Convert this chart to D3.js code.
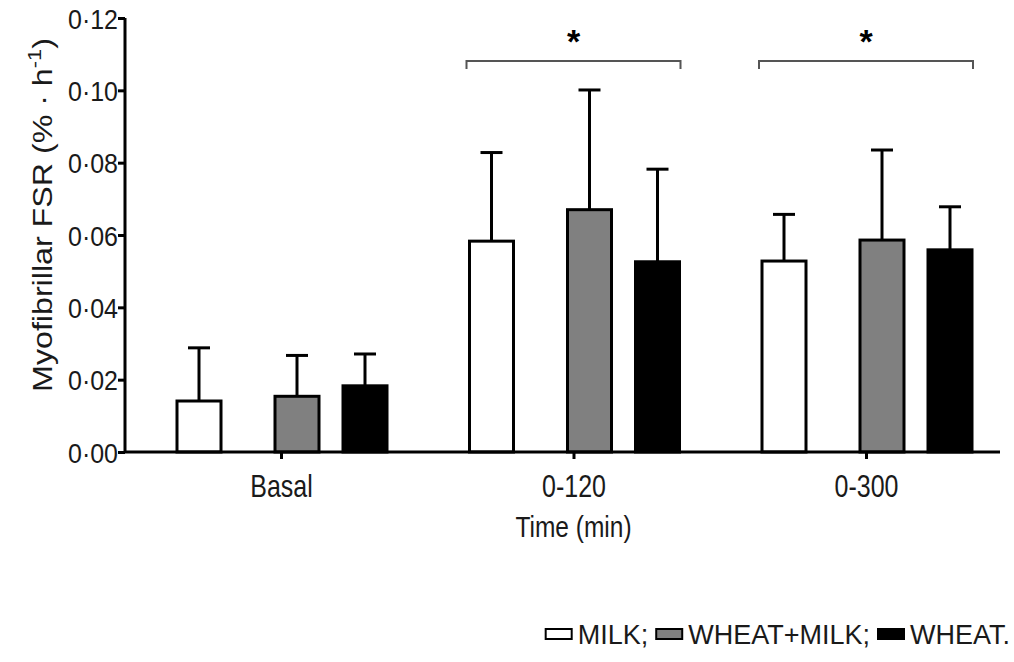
<!DOCTYPE html>
<html>
<head>
<meta charset="utf-8">
<script src="https://cdn.jsdelivr.net/npm/d3@7"></script>
<style>
  body { margin: 0; background: #fff; }
  svg { display: block; font-family: "Liberation Sans", Arial, sans-serif; }
</style>
</head>
<body>
<svg id="chart" width="1014" height="662" viewBox="0 0 1014 662"></svg>
<script>
const categories = ["Basal", "0-120", "0-300"];
const series = ["MILK", "WHEAT+MILK", "WHEAT"];
const means = {
  MILK: [0.0141, 0.0583, 0.0528],
  "WHEAT+MILK": [0.0154, 0.067, 0.0586],
  WHEAT: [0.0183, 0.0526, 0.0559],
};
const upperSD = {
  MILK: [0.0288, 0.0828, 0.0657],
  "WHEAT+MILK": [0.0267, 0.1001, 0.0835],
  WHEAT: [0.0271, 0.0782, 0.0678],
};
const yTicks = [0, 0.02, 0.04, 0.06, 0.08, 0.1, 0.12];
const significant = ["0-120", "0-300"];
const legendLabels = ["MILK;", "WHEAT+MILK;", "WHEAT."];

const fills = d3.scaleOrdinal().domain(series).range(["#ffffff", "#808080", "#000000"]);
const ink = "#1a1a1a";

const svg = d3.select("#chart");
const axisX = 125;

const y = d3.scaleLinear().domain([0, 0.12]).range([452, 18]);
const x = d3.scalePoint().domain(categories).range([281, 866]);
// bar left edge relative to category tick (GraphPad-style spacing)
const offset = d3.scaleOrdinal().domain(series).range([-104, -6, 62]);
const barW = 44;

const rows = categories.flatMap((c, i) =>
  series.map((s) => ({ cat: c, s, v: means[s][i], hi: upperSD[s][i] }))
);

// error bars first so bars cover the stem
const err = svg.append("g").attr("stroke", "#000").attr("stroke-width", 3);
err.selectAll("line.stem")
  .data(rows)
  .join("line")
  .attr("x1", (d) => x(d.cat) + offset(d.s) + barW / 2)
  .attr("x2", (d) => x(d.cat) + offset(d.s) + barW / 2)
  .attr("y1", (d) => y(d.v))
  .attr("y2", (d) => y(d.hi));
err.selectAll("line.cap")
  .data(rows)
  .join("line")
  .attr("x1", (d) => x(d.cat) + offset(d.s) + barW / 2 - 11)
  .attr("x2", (d) => x(d.cat) + offset(d.s) + barW / 2 + 11)
  .attr("y1", (d) => y(d.hi))
  .attr("y2", (d) => y(d.hi));

svg.append("g")
  .selectAll("rect")
  .data(rows)
  .join("rect")
  .attr("x", (d) => x(d.cat) + offset(d.s))
  .attr("y", (d) => y(d.v))
  .attr("width", barW)
  .attr("height", (d) => y(0) - y(d.v))
  .attr("fill", (d) => fills(d.s))
  .attr("stroke", "#000")
  .attr("stroke-width", 3);

// y axis
const yAxis = svg.append("g")
  .attr("transform", `translate(${axisX},0)`)
  .call(
    d3.axisLeft(y)
      .tickValues(yTicks)
      .tickSize(7)
      .tickPadding(0)
      .tickFormat((d) => d3.format(".2f")(d).replace(".", "·"))
  );
yAxis.select(".domain").attr("stroke-width", 3).attr("d", `M0,${y(0.12)}V${y(0)}`);
yAxis.selectAll(".tick line").attr("stroke-width", 3);
yAxis.selectAll(".tick text")
  .attr("font-size", 25)
  .attr("fill", ink)
  .attr("font-family", "Liberation Sans, Arial, sans-serif")
  .attr("dy", null)
  .attr("y", 0)
  .attr("transform", "translate(0,10) scale(1,1.12)");

// x axis
const xAxis = svg.append("g")
  .attr("transform", `translate(0,${y(0)})`)
  .call(d3.axisBottom(x).tickSize(7));
xAxis.select(".domain").attr("stroke-width", 3).attr("d", `M${axisX},0H1000`);
xAxis.selectAll(".tick line").attr("stroke-width", 3);
xAxis.selectAll(".tick text")
  .attr("font-size", 25)
  .attr("fill", ink)
  .attr("font-family", "Liberation Sans, Arial, sans-serif")
  .attr("dy", null)
  .attr("y", 0)
  .attr("transform", "translate(0,45) scale(1,1.22)");

svg.append("text")
  .attr("transform", `translate(${x("0-120")},537) scale(1,1.22)`)
  .attr("text-anchor", "middle")
  .attr("font-size", 24.5)
  .attr("fill", ink)
  .text("Time (min)");

const yl = svg.append("text")
  .attr("transform", "translate(52,215) rotate(-90) scale(1.15,1)")
  .attr("text-anchor", "middle")
  .attr("font-size", 28)
  .attr("fill", ink);
yl.append("tspan").text("Myofibrillar FSR (% · h");
yl.append("tspan").attr("dy", -11).attr("font-size", 19).text("-1");
yl.append("tspan").attr("dy", 11).text(")");

// significance brackets
const br = svg.append("g");
significant.forEach((c) => {
  const x0 = x(c) + offset("MILK") - 3;
  const x1 = x(c) + offset("WHEAT") + barW + 1;
  br.append("path")
    .attr("d", `M${x0},69V61H${x1}V69`)
    .attr("fill", "none")
    .attr("stroke", "#555")
    .attr("stroke-width", 2);
  br.append("text")
    .attr("x", x(c))
    .attr("y", 53)
    .attr("text-anchor", "middle")
    .attr("font-size", 34)
    .attr("font-weight", "bold")
    .text("*");
});

// legend, laid out right to left
const leg = svg.append("g").attr("font-size", 27).attr("fill", ink);
let cx = 1010;
for (let i = legendLabels.length - 1; i >= 0; i--) {
  const t = leg.append("text").attr("y", 644).attr("text-anchor", "end").attr("x", cx).text(legendLabels[i]);
  const w = t.node().getComputedTextLength();
  cx -= w + 6;
  leg.append("rect")
    .attr("x", cx - 26)
    .attr("y", 629)
    .attr("width", 26)
    .attr("height", 10)
    .attr("fill", fills(series[i]))
    .attr("stroke", "#000")
    .attr("stroke-width", 2);
  cx -= 26 + 8;
}
</script>
</body>
</html>
